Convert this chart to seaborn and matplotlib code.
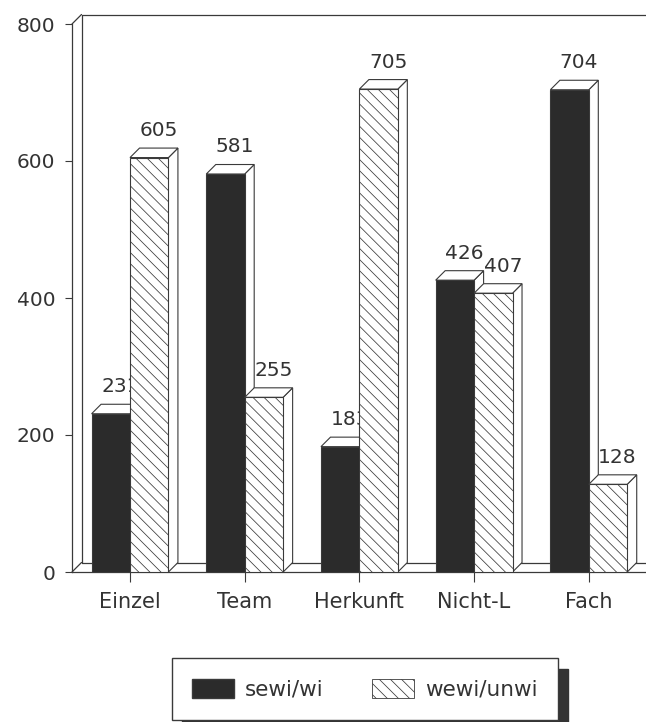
import pandas as pd
import matplotlib
matplotlib.use("Agg")
import matplotlib.pyplot as plt
from matplotlib.patches import Patch, Polygon
import seaborn as sns

kategorien = ["Einzel", "Team", "Herkunft", "Nicht-L", "Fach"]
sewi_wi = [231, 581, 183, 426, 704]
wewi_unwi = [605, 255, 705, 407, 128]
gruppen = ["sewi/wi", "wewi/unwi"]

dunkel = "#2b2b2b"
linie = "#3a3a3a"
text_farbe = "#333333"
schraffur = "\\\\\\"

df = pd.DataFrame({
    "Kategorie": kategorien * 2,
    "Gruppe": [gruppen[0]] * 5 + [gruppen[1]] * 5,
    "Wert": sewi_wi + wewi_unwi,
})

sns.set_theme(style="white")
plt.rcParams["font.family"] = ["DejaVu Sans"]
plt.rcParams["hatch.linewidth"] = 0.55

fig = plt.figure(figsize=(6.46, 7.22), dpi=100)
ax = fig.add_axes([72 / 646, 150 / 722, 574 / 646, 548 / 722])

sns.barplot(data=df, x="Kategorie", y="Wert", hue="Gruppe", hue_order=gruppen,
            palette=[dunkel, "white"], saturation=1, width=0.67, gap=0,
            legend=False, ax=ax)

ax.set_xlim(-58 / 114.7, 516 / 114.7)
ax.set_ylim(0, 800)
ax.set_xlabel("")
ax.set_ylabel("")
ax.set_yticks([0, 200, 400, 600, 800])

# Tiefe der Pseudo-3D-Darstellung, von Pixeln in Datenwerte umgerechnet
dx = 9.5 * (ax.get_xlim()[1] - ax.get_xlim()[0]) / 574
dy = 9.5 * 800 / 548

for j, container in enumerate(ax.containers):
    for i, bar in enumerate(container):
        basis = 3 + i + j * 0.4
        x0, b, h = bar.get_x(), bar.get_width(), bar.get_height()
        bar.set_edgecolor(linie)
        bar.set_linewidth(0.8)
        bar.set_zorder(basis + 0.2)
        if j == 1:
            bar.set_hatch(schraffur)
        seite = Polygon([(x0 + b, 0), (x0 + b + dx, dy), (x0 + b + dx, h + dy), (x0 + b, h)],
                        facecolor="white", edgecolor=linie, linewidth=0.8, zorder=basis)
        deckel = Polygon([(x0, h), (x0 + dx, h + dy), (x0 + b + dx, h + dy), (x0 + b, h)],
                         facecolor="white", edgecolor=linie, linewidth=0.8, zorder=basis)
        ax.add_patch(seite)
        ax.add_patch(deckel)
        ax.annotate(str(int(h)), (x0 + b / 2 + dx, h), xytext=(0, 15.5), textcoords="offset points",
                    ha="center", va="baseline", fontsize=14.5, color=text_farbe, zorder=basis + 0.1)

# Rueckwand und Boden
x_l, x_r = ax.get_xlim()
for xs, ys in [([x_l + dx, x_l + dx], [dy, 800 + dy]),
               ([x_l + dx, x_r], [800 + dy, 800 + dy]),
               ([x_l + dx, x_r], [dy, dy]),
               ([x_l, x_l + dx], [800, 800 + dy]),
               ([x_l, x_l + dx], [0, dy])]:
    ax.plot(xs, ys, color=linie, lw=0.9, clip_on=False, zorder=1)

sns.despine(ax=ax, top=True, right=True)
for name in ["left", "bottom"]:
    ax.spines[name].set_color(linie)
    ax.spines[name].set_linewidth(0.9)

ax.tick_params(axis="y", length=5, width=0.8, color=linie, pad=7, left=True,
               labelsize=14.5, labelcolor=text_farbe)
ax.tick_params(axis="x", length=7, width=0.8, color=linie, pad=7.5, bottom=True,
               labelsize=15, labelcolor=text_farbe)

griffe = [Patch(facecolor=dunkel, edgecolor=linie, label=gruppen[0]),
          Patch(facecolor="white", edgecolor=linie, linewidth=0.6, hatch=schraffur, label=gruppen[1])]
fig.legend(handles=griffe, ncol=2, loc="lower left",
           bbox_to_anchor=(172 / 646, 2 / 722, 386 / 646, 60 / 722), mode="expand",
           borderaxespad=0, fontsize=15.5, labelcolor=text_farbe, handlelength=1.95,
           handleheight=1.0, handletextpad=0.5, columnspacing=1.2, borderpad=0.95,
           fancybox=False, framealpha=1, edgecolor=linie,
           shadow={"color": "#333333", "alpha": 1, "ox": 7.5, "oy": -7.5})

fig.savefig("out.png", dpi=100)
